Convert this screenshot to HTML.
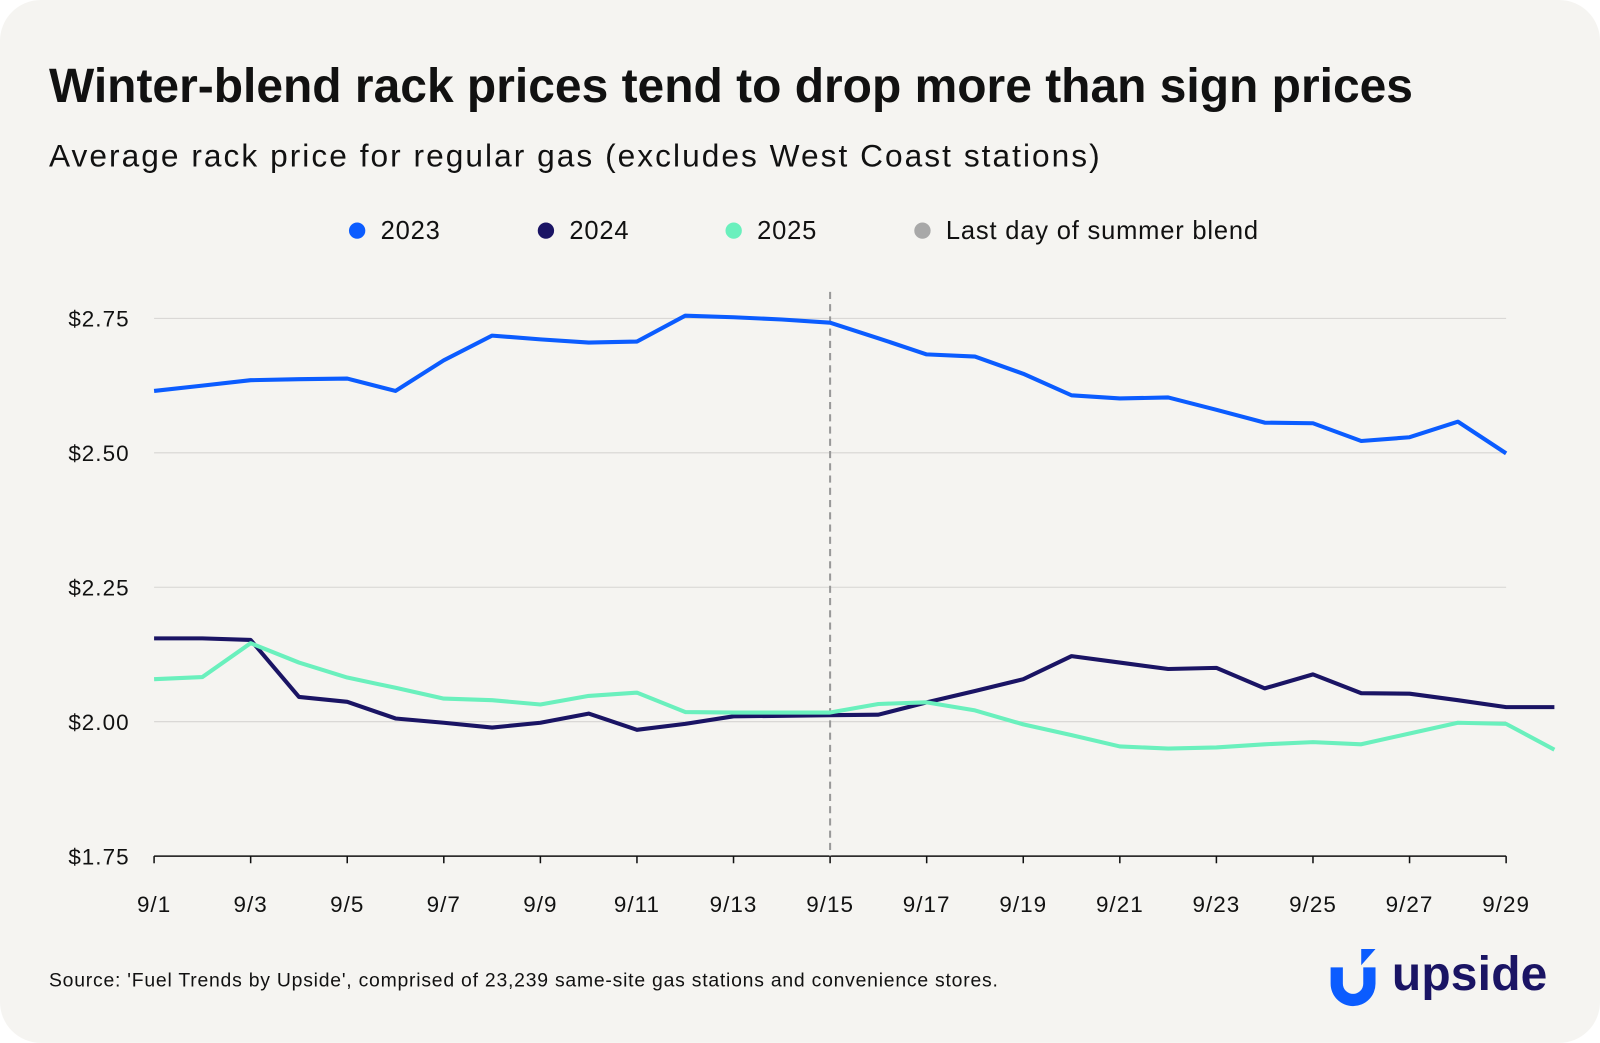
<!DOCTYPE html>
<html><head><meta charset="utf-8">
<style>
html,body{margin:0;padding:0;background:#fff;overflow:hidden;}
#card{position:absolute;left:0;top:0;width:1568px;height:1022px;background:#f5f4f1;border-radius:40px;font-family:"Liberation Sans",sans-serif;color:#111;transform:scale(1.02041);transform-origin:0 0;}
#title{position:absolute;left:48px;top:56px;font-size:47px;font-weight:bold;letter-spacing:0px;white-space:nowrap;}
#subtitle{position:absolute;left:48px;top:135px;font-size:31px;letter-spacing:2px;white-space:nowrap;}
#source{position:absolute;left:48px;top:951px;font-size:19px;letter-spacing:0.75px;white-space:nowrap;}
svg{position:absolute;left:0;top:0;}
</style></head><body>
<div id="card">
<div id="title">Winter-blend rack prices tend to drop more than sign prices</div>
<div id="subtitle">Average rack price for regular gas (excludes West Coast stations)</div>
<div id="source">Source: 'Fuel Trends by Upside', comprised of 23,239 same-site gas stations and convenience stores.</div>
<svg id="chart" width="1568" height="1022"></svg>
<svg width="1568" height="1022" style="pointer-events:none">
<path d="M1304 948 h12 v16 a10 10 0 0 0 20 0 v-16 h12 v16 a22 22 0 0 1 -44 0z" fill="#0b5cff"/>
<path d="M1334 930 h14 l-14 16 z" fill="#0b5cff"/>
<text x="1364" y="970" font-family="Liberation Sans, sans-serif" font-size="47" font-weight="bold" fill="#1a1464" letter-spacing="0.2">upside</text>
</svg>
</div>
<script>
const days=[1,2,3,4,5,6,7,8,9,10,11,12,13,14,15,16,17,18,19,20,21,22,23,24,25,26,27,28,29,30];
const s2023=[2.615,2.625,2.635,2.637,2.638,2.615,2.672,2.718,2.711,2.705,2.707,2.755,2.752,2.748,2.742,2.713,2.683,2.679,2.647,2.607,2.601,2.603,2.580,2.556,2.555,2.522,2.529,2.558,2.499,null];
const s2024=[2.155,2.155,2.152,2.046,2.037,2.006,1.998,1.989,1.998,2.015,1.985,1.996,2.010,2.011,2.012,2.013,2.036,2.057,2.079,2.122,2.110,2.098,2.100,2.062,2.088,2.053,2.052,2.040,2.027,2.027];
const s2025=[2.079,2.083,2.146,2.110,2.082,2.063,2.043,2.040,2.032,2.048,2.054,2.018,2.017,2.017,2.017,2.033,2.036,2.021,1.995,1.975,1.954,1.950,1.952,1.958,1.962,1.958,1.978,1.998,1.996,1.948];
const yTicks=[1.75,2.00,2.25,2.50,2.75];
const yLabels=["$1.75","$2.00","$2.25","$2.50","$2.75"];
const xTickDays=[1,3,5,7,9,11,13,15,17,19,21,23,25,27,29];
const markerDay=15;
const series=[{name:"2023",data:s2023,color:"#0b5cff"},{name:"2024",data:s2024,color:"#1a1464"},{name:"2025",data:s2025,color:"#6af0bd"}];
const NS="http://www.w3.org/2000/svg";
const svg=document.getElementById('chart');
const x=d=>151+(d-1)*(1476-151)/28;
const y=v=>839-(v-1.75)*(839-312)/1.0;
function el(t,a){const e=document.createElementNS(NS,t);for(const k in a)e.setAttribute(k,a[k]);svg.appendChild(e);return e;}
yTicks.forEach((t,i)=>{
  if(i>0){const g=el('line',{x1:151,x2:1476,y1:y(t),y2:y(t),stroke:'#d6d5d2','stroke-width':1});
  
  }
  const l=el('text',{x:127,y:y(t)+8,'text-anchor':'end','font-size':22,'letter-spacing':1,fill:'#111','font-family':'Liberation Sans, sans-serif'});
  l.textContent=yLabels[i];
  
  
});
const ax=el('line',{x1:151,x2:1476,y1:839,y2:839,stroke:'#111','stroke-width':1.5});


xTickDays.forEach(d=>{
  const t=el('line',{x1:x(d),x2:x(d),y1:839,y2:846,stroke:'#111','stroke-width':1.5});
  
  
  const l=el('text',{x:x(d),y:894,'text-anchor':'middle','font-size':22,'letter-spacing':1,fill:'#111','font-family':'Liberation Sans, sans-serif'});
  l.textContent='9/'+d;
  
  
});
const m=el('line',{x1:x(markerDay),x2:x(markerDay),y1:286,y2:839,stroke:'#999','stroke-width':2,'stroke-dasharray':'7,5'});


series.forEach(s=>{
  let p='';
  s.data.forEach((v,i)=>{if(v!==null)p+=(p?'L':'M')+x(days[i]).toFixed(1)+','+y(v).toFixed(1);});
  const path=el('path',{d:p,fill:'none',stroke:s.color,'stroke-width':4,'stroke-linejoin':'round'});
  
  
});
const legend=[["2023","#0b5cff",350],["2024","#1a1464",535],["2025","#6af0bd",719],["Last day of summer blend","#a8a8a8",904]];
legend.forEach(([t,c,lx])=>{
  const d=el('circle',{cx:lx,cy:226,r:8,fill:c});
  
  
  const l=el('text',{x:lx+23,y:234,'font-size':25,'letter-spacing':0.8,fill:'#111','font-family':'Liberation Sans, sans-serif'});
  l.textContent=t;
  
  
});
</script>
</body></html>
